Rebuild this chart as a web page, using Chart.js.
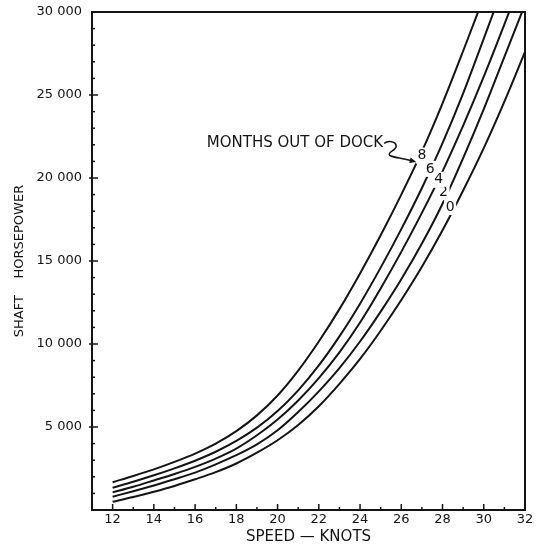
<!DOCTYPE html>
<html>
<head>
<meta charset="utf-8">
<script src="https://cdn.jsdelivr.net/npm/chart.js@4.4.1/dist/chart.umd.min.js"></script>
<style>
  html, body { margin: 0; padding: 0; background: #fff; }
  canvas { display: block; }
</style>
</head>
<body>
<canvas id="chart" width="536" height="548"></canvas>
<script>
// Velocidade (nós)
const speeds = [12, 13, 14, 15, 16, 17, 18, 19, 20, 21, 22, 23, 24, 25, 26, 27, 28, 29, 30, 31, 32];

// Potência no eixo (SHP) por meses fora da doca
const shp0 = [500, 780, 1100, 1450, 1850, 2280, 2800, 3450, 4200, 5120, 6250, 7600, 9100, 10800, 12650, 14650, 16850, 19250, 21800, 24600, 27600];
const shp2 = [800, 1130, 1480, 1850, 2250, 2750, 3300, 3950, 4800, 5900, 7150, 8550, 10150, 11950, 13900, 16050, 18450, 21200, 24150, 27300, 30450];
const shp4 = [1060, 1400, 1780, 2170, 2600, 3100, 3700, 4500, 5450, 6600, 7950, 9500, 11300, 13350, 15550, 17900, 20400, 23150, 26100, 29250, 32500];
const shp6 = [1340, 1700, 2090, 2510, 2970, 3510, 4160, 4960, 5960, 7210, 8710, 10460, 12430, 14600, 16920, 19400, 22100, 25100, 28400, 31750, null];
const shp8 = [1675, 2050, 2450, 2900, 3400, 4000, 4750, 5700, 6900, 8400, 10150, 12100, 14250, 16550, 19000, 21600, 24500, 27650, 30900, null, null];

// Rótulos das curvas (meses) e onde ficam (nós, SHP)
const monthsOut = ['0', '2', '4', '6', '8'];
const labelSpeeds = [28.37, 28.05, 27.81, 27.40, 27.0];
const labelPower = [18250, 19150, 19890, 20550, 21350];

// Textos dos eixos
const xTickValues = [12, 14, 16, 18, 20, 22, 24, 26, 28, 30, 32];
const xTickLabels = ['12', '14', '16', '18', '20', '22', '24', '26', '28', '30', '32'];
const yTickValues = [5000, 10000, 15000, 20000, 25000, 30000];
const yTickLabels = ['5 000', '10 000', '15 000', '20 000', '25 000', '30 000'];

// Anotação "MONTHS OUT OF DOCK"
const noteText = 'MONTHS OUT OF DOCK';
const noteSpeed = 25.12;
const notePower = 22090;

const ink = '#141414';
Chart.defaults.font.family = '"DejaVu Sans", sans-serif';
Chart.defaults.color = ink;

function series(values) {
    return speeds.map((s, i) => ({ x: s, y: values[i] })).filter(p => p.y !== null);
}

const curves = [shp0, shp2, shp4, shp6, shp8].map((vals, i) => ({
    label: monthsOut[i],
    data: series(vals),
    borderColor: ink,
    borderWidth: 2,
    pointRadius: 0,
    fill: false,
    cubicInterpolationMode: 'monotone'
}));

// Desenha caixa, marcas internas, números das curvas e a seta
const overlay = {
    id: 'overlay',
    afterDraw(chart) {
        const { ctx, chartArea: a, scales: { x, y } } = chart;
        ctx.save();
        ctx.strokeStyle = ink;
        ctx.lineWidth = 2;
        ctx.beginPath();
        ctx.moveTo(a.left, a.top);
        ctx.lineTo(a.right, a.top);
        ctx.lineTo(a.right, a.bottom);
        ctx.stroke();

        ctx.lineWidth = 1.5;
        x.ticks.forEach(t => {
            if (t.value <= 11 || t.value >= 32) return;
            const px = x.getPixelForValue(t.value);
            const len = t.value % 2 === 0 ? 6 : 3;
            ctx.beginPath();
            ctx.moveTo(px, a.bottom);
            ctx.lineTo(px, a.bottom - len);
            ctx.stroke();
        });
        y.ticks.forEach(t => {
            if (t.value <= 0 || t.value >= 30000) return;
            const py = y.getPixelForValue(t.value);
            const major = t.value % 5000 === 0;
            ctx.beginPath();
            ctx.moveTo(a.left - (major ? 3 : 0), py);
            ctx.lineTo(a.left + (major ? 6 : 3), py);
            ctx.stroke();
        });

        ctx.font = '14px "DejaVu Sans", sans-serif';
        ctx.textAlign = 'center';
        ctx.textBaseline = 'middle';
        monthsOut.forEach((m, i) => {
            const px = x.getPixelForValue(labelSpeeds[i]);
            const py = y.getPixelForValue(labelPower[i]);
            ctx.fillStyle = '#fff';
            ctx.fillRect(px - 6, py - 8, 12, 16);
            ctx.fillStyle = ink;
            ctx.fillText(m, px, py);
        });

        const nx = x.getPixelForValue(noteSpeed);
        const ny = y.getPixelForValue(notePower);
        ctx.font = '15px "DejaVu Sans", sans-serif';
        ctx.textAlign = 'right';
        ctx.fillText(noteText, nx, ny);

        ctx.lineWidth = 1.6;
        ctx.beginPath();
        ctx.moveTo(nx + 1, ny);
        ctx.bezierCurveTo(nx + 5, ny - 3, nx + 13, ny - 2, nx + 13, ny + 3);
        ctx.bezierCurveTo(nx + 13, ny + 7, nx + 6, ny + 8, nx + 6, ny + 11);
        ctx.bezierCurveTo(nx + 6, ny + 14, nx + 16, ny + 14, nx + 31, ny + 18);
        ctx.stroke();
        const ang = Math.atan2(4, 15);
        const tx = nx + 33, ty = ny + 18.6;
        ctx.beginPath();
        ctx.moveTo(tx, ty);
        ctx.lineTo(tx - 7 * Math.cos(ang - 0.4), ty - 7 * Math.sin(ang - 0.4));
        ctx.lineTo(tx - 7 * Math.cos(ang + 0.4), ty - 7 * Math.sin(ang + 0.4));
        ctx.closePath();
        ctx.fillStyle = ink;
        ctx.fill();
        ctx.restore();
    }
};

new Chart(document.getElementById('chart').getContext('2d'), {
    type: 'line',
    data: { datasets: curves },
    plugins: [overlay],
    options: {
        responsive: false,
        animation: false,
        devicePixelRatio: 1,
        layout: { padding: { top: 12, right: 11, left: 0, bottom: 0 } },
        plugins: { legend: { display: false }, tooltip: { enabled: false } },
        scales: {
            x: {
                type: 'linear',
                min: 11,
                max: 32,
                afterFit: s => { s.height = 38; s.paddingLeft = 0; s.paddingRight = 0; },
                border: { display: true, color: ink, width: 2 },
                grid: { display: false, drawTicks: false },
                ticks: {
                    stepSize: 1,
                    autoSkip: false,
                    maxRotation: 0,
                    padding: 2,
                    font: { size: 13 },
                    callback: v => {
                        const i = xTickValues.indexOf(v);
                        return i >= 0 ? xTickLabels[i] : '';
                    }
                },
                title: {
                    display: true,
                    text: 'SPEED — KNOTS',
                    font: { size: 15 },
                    padding: { top: 0, bottom: 2 }
                }
            },
            y: {
                min: 0,
                max: 30000,
                afterFit: s => { s.width = 92; s.paddingTop = 0; s.paddingBottom = 0; },
                border: { display: true, color: ink, width: 2 },
                grid: { display: false, drawTicks: false },
                ticks: {
                    stepSize: 1000,
                    autoSkip: false,
                    padding: 10,
                    font: { size: 13 },
                    callback: v => {
                        const i = yTickValues.indexOf(v);
                        return i >= 0 ? yTickLabels[i] : '';
                    }
                },
                title: {
                    display: true,
                    text: 'SHAFT    HORSEPOWER',
                    font: { size: 13 },
                    padding: { top: 12, bottom: 0 }
                }
            }
        }
    }
});
</script>
</body>
</html>
